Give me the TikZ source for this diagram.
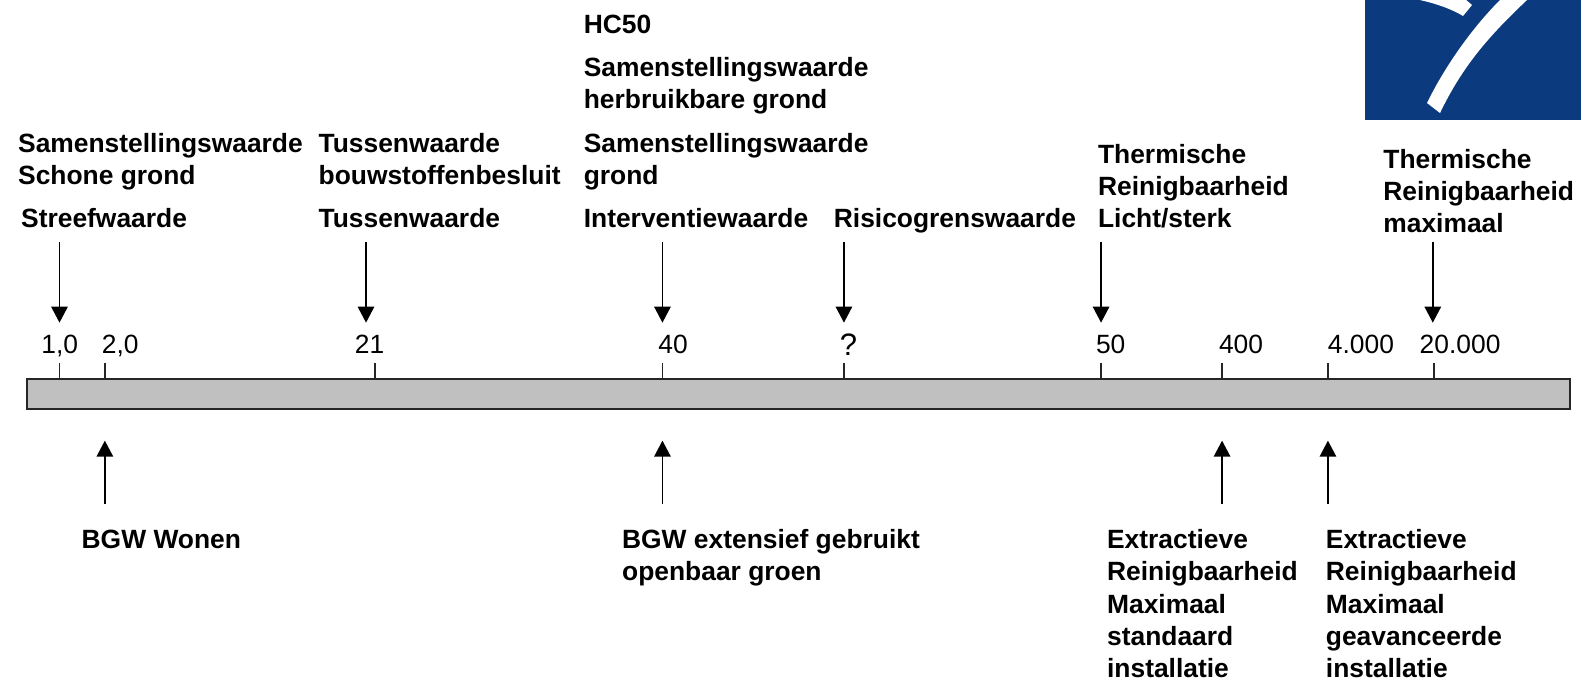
\documentclass[tikz,border=0pt]{standalone}
\usepackage{fontspec}
\setmainfont{Liberation Sans}
\usetikzlibrary{arrows.meta}
\definecolor{logoblue}{HTML}{0B3A7E}
\definecolor{bargray}{HTML}{C0C0C0}
\tikzset{
  lbl/.style={anchor=base west,inner sep=0pt,outer sep=0pt,align=left,font=\fontsize{13.2}{16.1}\selectfont\bfseries},
  num/.style={anchor=base west,inner sep=0pt,outer sep=0pt,font=\fontsize{13.2}{16.1}\selectfont},
  arr/.style={line width=0.85pt,black,-{Triangle[length=8pt,width=8.2pt]}},
  tick mark/.style={line width=0.85pt,black!85}
}
\begin{document}
\begin{tikzpicture}[x=0.50415pt,y=-0.50415pt]
\useasboundingbox (0,0) rectangle (1568,674.4);
% logo
\begin{scope}
\clip (0,0) rectangle (1568,674.4);
\fill[logoblue] (1354,0) rectangle (1568,119);
\begin{scope}[xscale=0.99177,yscale=0.99177]
\fill[white] (1427,103) .. controls (1443,70) and (1470,30) .. (1500,0) -- (1507,-7) -- (1534,-7) -- (1527,0) .. controls (1490,35) and (1463,65) .. (1440,113) -- cycle;
\fill[white] (1415,-1) .. controls (1430,2) and (1448,7) .. (1463,16) -- (1472,5) -- (1465,-1) -- cycle;
\end{scope}
\end{scope}
% bar
\node[draw=black!85,line width=1pt,fill=bargray,minimum width=771.3pt,minimum height=15.1pt,inner sep=0pt,outer sep=0pt,anchor=north west] (bar) at (27,376) {};
% labels
\node[lbl] (a1) at (18,183) {Samenstellingswaarde\\Schone grond};
\node[lbl] (a2) at (21,226) {Streefwaarde};
\node[lbl] (b1) at (316,183) {Tussenwaarde\\bouwstoffenbesluit};
\node[lbl] (b2) at (316,226) {Tussenwaarde};
\node[lbl] (c0) at (579,33) {HC50};
\node[lbl] (c1) at (579,108) {Samenstellingswaarde\\herbruikbare grond};
\node[lbl] (c2) at (579,183) {Samenstellingswaarde\\grond};
\node[lbl] (c3) at (579,226) {Interventiewaarde};
\node[lbl] (d) at (827,226) {Risicogrenswaarde};
\node[lbl] (e) at (1089,226) {Thermische\\Reinigbaarheid\\Licht/sterk};
\node[lbl] (f) at (1372,231) {Thermische\\Reinigbaarheid\\maximaal};
\node[lbl] (g) at (81,544) {BGW Wonen};
\node[lbl] (h) at (617,576) {BGW extensief gebruikt\\openbaar groen};
\node[lbl] (i) at (1098,672) {Extractieve\\Reinigbaarheid\\Maximaal\\standaard\\installatie};
\node[lbl] (j) at (1315,672) {Extractieve\\Reinigbaarheid\\Maximaal\\geavanceerde\\installatie};
% numbers
\node[num] (n1) at (41,351) {1,0};
\node[num] (n2) at (101,351) {2,0};
\node[num] (n3) at (352,351) {21};
\node[num] (n4) at (653,351) {40};
\node[num,font=\fontsize{15.5}{18}\selectfont] (n5) at (833,353) {?};
\node[num] (n6) at (1087,351) {50};
\node[num] (n7) at (1209,351) {400};
\node[num] (n8) at (1317,351) {4.000};
\node[num] (n9) at (1408,351) {20.000};
% arrows and ticks
\foreach \x/\k in {59/a,363/b,657/c,837/d,1092/e,1421/f}{
  \coordinate (ds\k) at (\x,240);
  \coordinate (de\k) at (\x,320);
  \draw[arr] (ds\k) -- (de\k);
}
\foreach \x/\k in {104/g,657/h,1212/i,1317/j}{
  \coordinate (us\k) at (\x,500);
  \coordinate (ue\k) at (\x,437);
  \draw[arr] (us\k) -- (ue\k);
}
\foreach \x/\k in {59/a,104/b,372/c,657/d,837/e,1092/f,1212/g,1317/h,1422/i}{
  \coordinate (ts\k) at (\x,360);
  \coordinate (te\k) at (\x,376);
  \draw[tick mark] (ts\k) -- (te\k);
}
\end{tikzpicture}
\end{document}
